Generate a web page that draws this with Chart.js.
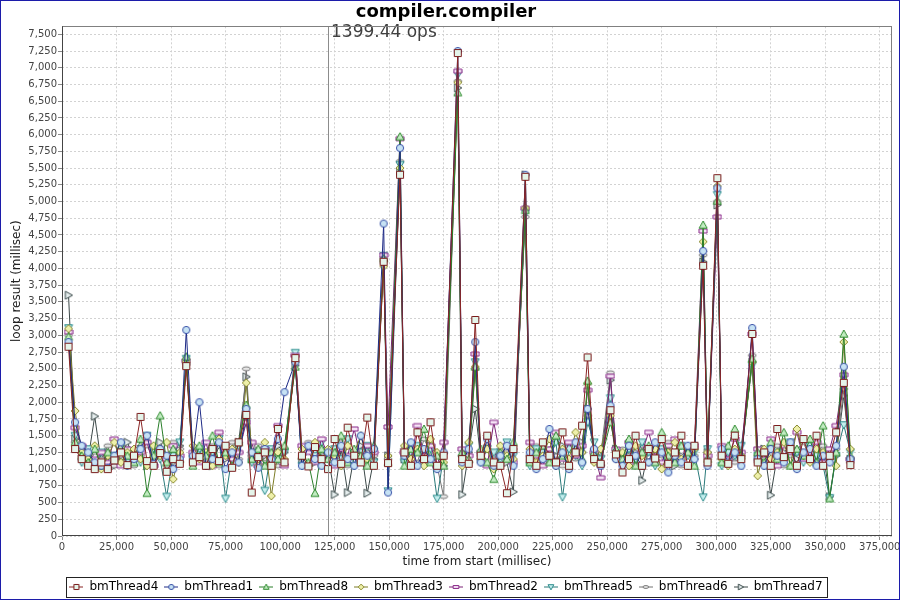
<!DOCTYPE html>
<html>
<head>
<meta charset="utf-8">
<script src="https://cdn.jsdelivr.net/npm/chart.js@4.4.1/dist/chart.umd.min.js"></script>
<style>
  html, body { margin: 0; padding: 0; background: #ffffff; }
  canvas { display: block; }
</style>
</head>
<body>
<canvas id="c" width="900" height="600"></canvas>
<script>
const chartTitle = 'compiler.compiler';
const xTitle = 'time from start (millisec)';
const yTitle = 'loop result (millisec)';
const markerTime = 122000;
const markerLabel = '1399.44 ops';
const xMax = 380600;
const yMax = 7620;
const xTickValues = [0, 25000, 50000, 75000, 100000, 125000, 150000, 175000, 200000, 225000, 250000, 275000, 300000, 325000, 350000, 375000];
const yTickValues = [0, 250, 500, 750, 1000, 1250, 1500, 1750, 2000, 2250, 2500, 2750, 3000, 3250, 3500, 3750, 4000, 4250, 4500, 4750, 5000, 5250, 5500, 5750, 6000, 6250, 6500, 6750, 7000, 7250, 7500];

const seriesNames = ['bmThread4','bmThread1','bmThread8','bmThread3','bmThread2','bmThread5','bmThread6','bmThread7'];

const times = [
  3000, 6000, 9000, 12000, 15000, 18000, 21000, 24000, 27000, 30000,
  33000, 36000, 39000, 42000, 45000, 48000, 51000, 54000, 57000, 60000,
  63000, 66000, 69000, 72000, 75000, 78000, 81000, 84500, 87000, 90000,
  93000, 96000, 99000, 102000, 107000, 110000, 113000, 116000, 119000, 122000,
  125000, 128000, 131000, 134000, 137000, 140000, 143000, 147500, 149500, 155000,
  157000, 160000, 163000, 166000, 169000, 172000, 175000, 181500, 183500, 186500,
  189500, 192000, 195000, 198000, 201000, 204000, 207000, 212500, 214500, 217500,
  220500, 223500, 226500, 229500, 232500, 235500, 238500, 241000, 244000, 247000,
  251500, 254000, 257000, 260000, 263000, 266000, 269000, 272000, 275000, 278000,
  281000, 284000, 287000, 290000, 294000, 296000, 300500, 302500, 305500, 308500,
  311500, 316500, 319000, 322000, 325000, 328000, 331000, 334000, 337000, 340000,
  343000, 346000, 349000, 352000, 355000, 358500, 361500
];

const bmThread4 = [
  2830, 1300, 1150, 1050, 1000, 1100, 1000, 1130, 1250, 1060,
  1200, 1780, 1120, 1050, 1240, 960, 1150, 1080, 2540, 1100,
  1180, 1050, 1300, 1120, 1350, 1020, 1400, 1810, 650, 1180,
  1250, 1050, 1600, 1100, 2660, 1200, 1040, 1330, 1150, 1000,
  1450, 1080, 1620, 1200, 1100, 1770, 1050, 4100, 1090, 5400,
  1250, 1050, 1550, 1150, 1700, 1050, 1200, 7220, 1150, 1080,
  3230, 1200, 1500, 1100, 1050, 640, 1300, 5370, 1150, 1050,
  1400, 1200, 1100, 1550, 1050, 1250, 1650, 2670, 1150, 1080,
  1880, 1220, 950, 1150, 1500, 1050, 1300, 1160, 1450, 1080,
  1250, 1500, 1050, 1350, 4040, 1100, 5350, 1200, 1080, 1500,
  1150, 3020, 1100, 1250, 1050, 1600, 1180, 1300, 1050, 1450,
  1150, 1500, 1050, 1200, 1550, 2290, 1060
];
const bmThread1 = [
  2900, 1700, 1350, 1250, 1100, 1050, 1020, 1200, 1400, 1050,
  1150, 1300, 1500, 1080, 1300, 1200, 1000, 1150, 3080, 1200,
  2000, 1050, 1150, 1400, 1000, 1250, 1100, 1900, 1250, 1020,
  1300, 1150, 1450, 2150, 2600, 1050, 1350, 1150, 1050, 1250,
  1100, 1350, 1150, 1050, 1500, 1200, 1300, 4670, 650, 5800,
  1200, 1400, 1050, 1300, 1150, 1000, 1250, 7250, 1100, 1300,
  2900, 1100, 1450, 1050, 1200, 1350, 1050, 5400, 1250, 1000,
  1150, 1600, 1050, 1250, 1000, 1400, 1100, 1900, 1300, 1050,
  1950, 1150, 1050, 1350, 1200, 1050, 1100, 1400, 1250, 950,
  1200, 1100, 1350, 1150, 4260, 1050, 5200, 1300, 1100, 1250,
  1050, 3110, 1150, 1050, 1300, 1200, 1100, 1400, 1000, 1250,
  1300, 1050, 1200, 1100, 1350, 2530, 1150
];
const bmThread8 = [
  2980, 1400, 1200, 1100, 1300, 1050, 1250, 1150, 1350, 1200,
  1100, 1450, 640, 1200, 1800, 1100, 1300, 1150, 2680, 1050,
  1350, 1200, 1500, 1100, 1250, 1050, 1400, 1960, 1150, 1300,
  1050, 1250, 1150, 1350, 2530, 1200, 1100, 640, 1300, 1150,
  1250, 1500, 1100, 1300, 1200, 1050, 1350, 4150, 1100, 5970,
  1050, 1300, 1250, 1600, 1100, 1200, 1050, 6630, 1250, 1150,
  2530, 1300, 1100, 850, 1250, 1150, 1400, 4870, 1100, 1250,
  1350, 1100, 1500, 1200, 1050, 1300, 1150, 2320, 1250, 1100,
  1700, 1300, 1150, 1450, 1050, 1250, 1350, 1100, 1550, 1200,
  1100, 1350, 1250, 1050, 4650, 1150, 5010, 1100, 1350, 1600,
  1200, 2650, 1250, 1100, 1400, 1150, 1550, 1050, 1300, 1200,
  1450, 1100, 1650, 560, 1250, 3020, 1200
];
const bmThread3 = [
  3100, 1870, 1250, 1150, 1350, 1000, 1200, 1400, 1100, 1250,
  1300, 1150, 1050, 1350, 1200, 1400, 850, 1250, 2600, 1350,
  1150, 1250, 1050, 1450, 1200, 1300, 1100, 2290, 1250, 1050,
  1400, 600, 1250, 1150, 2600, 1300, 1050, 1400, 1150, 1300,
  1200, 1050, 1350, 1250, 1500, 1150, 1300, 4030, 1200, 5500,
  1350, 1150, 1300, 1050, 1450, 1250, 1100, 6780, 1050, 1400,
  2530, 1150, 1300, 1000, 1350, 1200, 1150, 4900, 1300, 1100,
  1200, 1450, 1050, 1300, 1150, 1550, 1250, 2280, 1100, 1300,
  1800, 1150, 1250, 1050, 1350, 1200, 1100, 1300, 1000, 1250,
  1400, 1150, 1050, 1300, 4400, 1250, 5230, 1150, 1050, 1300,
  1200, 2600, 900, 1300, 1150, 1250, 1400, 1050, 1600, 1200,
  1100, 1300, 1250, 1150, 1050, 2900, 1300
];
const bmThread2 = [
  3050, 1620, 1350, 1200, 1150, 1250, 1100, 1450, 1050, 1300,
  1150, 1250, 1400, 1050, 1300, 1150, 1350, 1200, 2620, 1250,
  1100, 1400, 1050, 1550, 1300, 1150, 1250, 1700, 1400, 1050,
  1300, 1200, 1650, 1050, 2700, 1350, 1250, 1100, 1450, 1200,
  1050, 1300, 1200, 1600, 1150, 1350, 1250, 4200, 1630, 5940,
  1250, 1150, 1650, 1200, 1350, 1050, 1400, 6950, 1300, 1200,
  2720, 1250, 1050, 1700, 1200, 1350, 1100, 4900, 1400, 1200,
  1050, 1300, 1550, 1150, 1400, 1200, 1350, 2180, 1250, 870,
  2390, 1300, 1150, 1400, 1050, 1250, 1550, 1200, 1100, 1350,
  1450, 1150, 1250, 1350, 4560, 1200, 4770, 1350, 1150, 1450,
  1250, 3020, 1300, 1150, 1450, 1050, 1350, 1250, 1550, 1150,
  1250, 1400, 1100, 1300, 1650, 2410, 1150
];
const bmThread5 = [
  3110, 1500, 1100, 1300, 1050, 1250, 1150, 1200, 1350, 1100,
  1250, 1100, 1500, 1300, 1150, 590, 1200, 1400, 2650, 1150,
  1300, 1050, 1250, 1450, 560, 1200, 1350, 1700, 1100, 1250,
  680, 1300, 1150, 1250, 2740, 1050, 1300, 1200, 1400, 1150,
  1300, 1150, 1450, 1050, 1250, 1350, 1100, 4190, 670, 5550,
  1100, 1250, 1350, 1150, 1300, 560, 1200, 6900, 1150, 1350,
  2600, 1100, 1300, 1250, 1150, 1400, 1200, 4830, 1050, 1300,
  1250, 1150, 1400, 580, 1300, 1200, 1050, 1700, 1400, 1150,
  2060, 1250, 1100, 1300, 1150, 1400, 1250, 1050, 1300, 1200,
  1150, 1350, 1200, 1250, 580, 1300, 5100, 1050, 1250, 1200,
  1350, 2550, 1200, 1050, 1300, 1250, 1150, 1400, 1250, 1100,
  1350, 1200, 1050, 570, 1200, 1660, 1250
];
const bmThread6 = [
  3000, 1400, 1200, 1050, 1250, 1150, 1350, 1050, 1200, 1300,
  1050, 1200, 1350, 1150, 1250, 1050, 1400, 1300, 2580, 1200,
  1250, 1150, 1350, 1050, 1300, 1400, 1150, 2500, 1200, 1350,
  1100, 1250, 1050, 1300, 2700, 1150, 1400, 1200, 1050, 1300,
  1200, 1400, 1050, 1250, 1150, 1300, 1200, 4150, 1150, 5600,
  1300, 1200, 1100, 1450, 1250, 1050, 590, 6800, 1200, 1100,
  2500, 1200, 1350, 1150, 1050, 1250, 1300, 4770, 1200, 1350,
  1100, 1300, 1200, 1050, 1350, 1150, 1250, 1800, 1300, 1200,
  2440, 1150, 1300, 1200, 1050, 1350, 1100, 1250, 1200, 1400,
  1250, 1050, 1300, 1200, 4200, 1150, 5000, 1250, 1300, 1100,
  1200, 2700, 1300, 1150, 1250, 1350, 1050, 1200, 1300, 1400,
  1150, 1250, 1350, 1200, 1300, 2200, 1100
];
const bmThread7 = [
  3600, 1450, 1300, 1150, 1790, 1100, 1250, 1050, 1200, 1400,
  1150, 1300, 1050, 1250, 1400, 1200, 1100, 1350, 2560, 1150,
  1300, 1200, 1050, 1350, 1150, 1250, 1400, 2380, 1150, 1300,
  1200, 1050, 1350, 1250, 2550, 1150, 1300, 1100, 1250, 1200,
  620, 1300, 650, 1200, 1350, 640, 1150, 4120, 1200, 5450,
  1150, 1300, 1250, 1100, 1350, 1200, 1050, 6700, 620, 1250,
  1900, 1150, 1300, 1200, 1250, 1100, 660, 5400, 1150, 1250,
  1300, 1150, 1200, 1350, 1050, 1250, 1400, 1900, 1200, 1100,
  2330, 1300, 1150, 1200, 1250, 830, 1300, 1150, 1250, 1350,
  1050, 1200, 1300, 1150, 4100, 1250, 4950, 1200, 1300, 1150,
  1250, 2600, 1150, 1300, 610, 1200, 1250, 1350, 1150, 1200,
  1300, 1150, 1250, 590, 1200, 2100, 1150
];

const seriesValues = [bmThread4, bmThread1, bmThread8, bmThread3, bmThread2, bmThread5, bmThread6, bmThread7];

const styles = [
  { shape: 'square',  line: '#8a2424', stroke: '#7a1c1c', fill: '#e4f4ea' },
  { shape: 'circle',  line: '#1e2a86', stroke: '#3a52a8', fill: '#c6e2f4' },
  { shape: 'up',      line: '#2a7e2a', stroke: '#2e8a2e', fill: '#c2ecc2' },
  { shape: 'diamond', line: '#7c7c26', stroke: '#8a8a30', fill: '#eef0aa' },
  { shape: 'hrect',   line: '#7c2276', stroke: '#8a2a8a', fill: '#f6e4f6' },
  { shape: 'down',    line: '#2a7a7a', stroke: '#2a8a8a', fill: '#c4eeee' },
  { shape: 'ellipse', line: '#727272', stroke: '#7a7a7a', fill: '#e6e6e6' },
  { shape: 'right',   line: '#3c4848', stroke: '#3a4a4a', fill: '#e6eeee' }
];

function makeMarker(st, legend) {
  const w = legend ? 14 : 10, h = 10;
  const c = document.createElement('canvas');
  c.width = w; c.height = h;
  const g = c.getContext('2d');
  const cx = w / 2, cy = h / 2;
  if (legend) {
    g.strokeStyle = st.line; g.lineWidth = 1;
    g.beginPath(); g.moveTo(0, cy); g.lineTo(w, cy); g.stroke();
  }
  const s = legend ? 0.72 : 1;
  g.beginPath();
  switch (st.shape) {
    case 'square': g.rect(cx - 3.5 * s, cy - 3.5 * s, 7 * s, 7 * s); break;
    case 'circle': g.arc(cx, cy, 3.6 * s, 0, Math.PI * 2); break;
    case 'up': g.moveTo(cx, cy - 4 * s); g.lineTo(cx + 4 * s, cy + 3.2 * s); g.lineTo(cx - 4 * s, cy + 3.2 * s); g.closePath(); break;
    case 'diamond': g.moveTo(cx, cy - 4 * s); g.lineTo(cx + 4 * s, cy); g.lineTo(cx, cy + 4 * s); g.lineTo(cx - 4 * s, cy); g.closePath(); break;
    case 'hrect': g.rect(cx - 4 * s, cy - 2 * s, 8 * s, 4 * s); break;
    case 'down': g.moveTo(cx, cy + 4 * s); g.lineTo(cx + 4 * s, cy - 3.2 * s); g.lineTo(cx - 4 * s, cy - 3.2 * s); g.closePath(); break;
    case 'ellipse': g.ellipse(cx, cy, 4 * s, 2 * s, 0, 0, Math.PI * 2); break;
    case 'right': g.moveTo(cx + 4 * s, cy); g.lineTo(cx - 3.2 * s, cy - 4 * s); g.lineTo(cx - 3.2 * s, cy + 4 * s); g.closePath(); break;
  }
  g.fillStyle = st.fill; g.fill();
  g.strokeStyle = st.stroke; g.lineWidth = 1; g.stroke();
  return c;
}

const pointImgs = styles.map(st => makeMarker(st, false));
const legendImgs = styles.map(st => makeMarker(st, true));

const datasets = seriesNames.map((name, i) => ({
  label: name,
  data: times.map((t, k) => ({ x: t, y: seriesValues[i][k] })),
  borderColor: styles[i].line,
  backgroundColor: styles[i].fill,
  borderWidth: 1,
  pointStyle: pointImgs[i],
  pointRadius: 4,
  tension: 0
}));

const FONT = 'DejaVu Sans';

const decor = {
  id: 'decor',
  afterDatasetsDraw(chart) {
    const { ctx, chartArea: a, scales: { x } } = chart;
    const px = Math.round(x.getPixelForValue(markerTime)) + 0.5;
    ctx.save();
    ctx.strokeStyle = '#8c8c8c';
    ctx.lineWidth = 1;
    ctx.beginPath(); ctx.moveTo(px, a.top); ctx.lineTo(px, a.bottom); ctx.stroke();
    ctx.fillStyle = '#404040';
    ctx.font = '17px "' + FONT + '"';
    ctx.textAlign = 'left';
    ctx.textBaseline = 'alphabetic';
    ctx.fillText(markerLabel, px + 2.5, a.top + 11);
    ctx.restore();
  },
  afterDraw(chart) {
    const { ctx, chartArea: a, legend } = chart;
    ctx.save();
    ctx.strokeStyle = '#808080';
    ctx.lineWidth = 1;
    ctx.strokeRect(Math.round(a.left) + 0.5, Math.round(a.top) + 0.5,
                   Math.round(a.right - a.left) - 1, Math.round(a.bottom - a.top) - 1);
    ctx.strokeStyle = '#444444';
    ctx.beginPath();
    ctx.moveTo(Math.round(a.left) + 0.5, a.top); ctx.lineTo(Math.round(a.left) + 0.5, a.bottom);
    ctx.moveTo(a.left, Math.round(a.bottom) - 0.5); ctx.lineTo(a.right, Math.round(a.bottom) - 0.5);
    ctx.stroke();
    if (legend && legend.legendHitBoxes && legend.legendHitBoxes.length) {
      const hb = legend.legendHitBoxes;
      let l = Infinity, r = -Infinity, t = Infinity, b = -Infinity;
      hb.forEach(h => { l = Math.min(l, h.left); r = Math.max(r, h.left + h.width); t = Math.min(t, h.top); b = Math.max(b, h.top + h.height); });
      const cy = (t + b) / 2;
      ctx.strokeStyle = '#222222';
      ctx.strokeRect(Math.round(l - 3) + 0.5, Math.round(cy - 10) + 0.5, Math.round(r - l + 8), 20);
    }
    ctx.strokeStyle = '#1c1caa';
    ctx.lineWidth = 2;
    ctx.strokeRect(0, 0, chart.width, chart.height);
    ctx.restore();
  }
};

new Chart(document.getElementById('c'), {
  type: 'line',
  data: { datasets },
  plugins: [decor],
  options: {
    responsive: false,
    animation: false,
    devicePixelRatio: 1,
    layout: { padding: { left: 0, right: 8, top: 0, bottom: -3 } },
    plugins: {
      title: {
        display: true, text: chartTitle, color: '#000000',
        font: { family: FONT, size: 18, weight: 'bold' },
        padding: { top: 2, bottom: 2.7 }
      },
      legend: {
        display: true, position: 'bottom',
        labels: {
          usePointStyle: true, pointStyleWidth: 14, padding: 6,
          color: '#000000', font: { family: FONT, size: 12 },
          generateLabels: (chart) => chart.data.datasets.map((ds, i) => ({
            text: ds.label, pointStyle: legendImgs[i], datasetIndex: i,
            hidden: false, fillStyle: styles[i].fill, strokeStyle: styles[i].line, lineWidth: 0
          }))
        }
      },
      tooltip: { enabled: false }
    },
    scales: {
      x: {
        type: 'linear', min: 0, max: xMax,
        afterBuildTicks: (s) => { s.ticks = xTickValues.map(v => ({ value: v })); },
        afterFit: (s) => { s.height = 39; s.paddingLeft = 0; s.paddingRight = 0; },
        ticks: {
          autoSkip: false, maxRotation: 0, minRotation: 0,
          color: '#444444', font: { family: FONT, size: 10 }, padding: 1,
          callback: (v) => Number(v).toLocaleString('en-US')
        },
        grid: { color: '#d2d2d2', tickLength: 4, tickColor: '#888888', drawTicks: true },
        border: { display: false, dash: [2, 2] },
        title: { display: true, text: xTitle, color: '#222222', font: { family: FONT, size: 12 }, padding: { top: 0, bottom: 6 } }
      },
      y: {
        type: 'linear', min: 0, max: yMax,
        afterBuildTicks: (s) => { s.ticks = yTickValues.map(v => ({ value: v })); },
        afterFit: (s) => { s.width = 62; s.paddingTop = 0; s.paddingBottom = 0; },
        ticks: {
          autoSkip: false,
          color: '#444444', font: { family: FONT, size: 10 }, padding: 1,
          callback: (v) => Number(v).toLocaleString('en-US')
        },
        grid: { color: '#d2d2d2', tickLength: 4, tickColor: '#888888', drawTicks: true },
        border: { display: false, dash: [2, 2] },
        title: { display: true, text: yTitle, color: '#222222', font: { family: FONT, size: 12 }, padding: { top: 10, bottom: 0 } }
      }
    }
  }
});
</script>
</body>
</html>
